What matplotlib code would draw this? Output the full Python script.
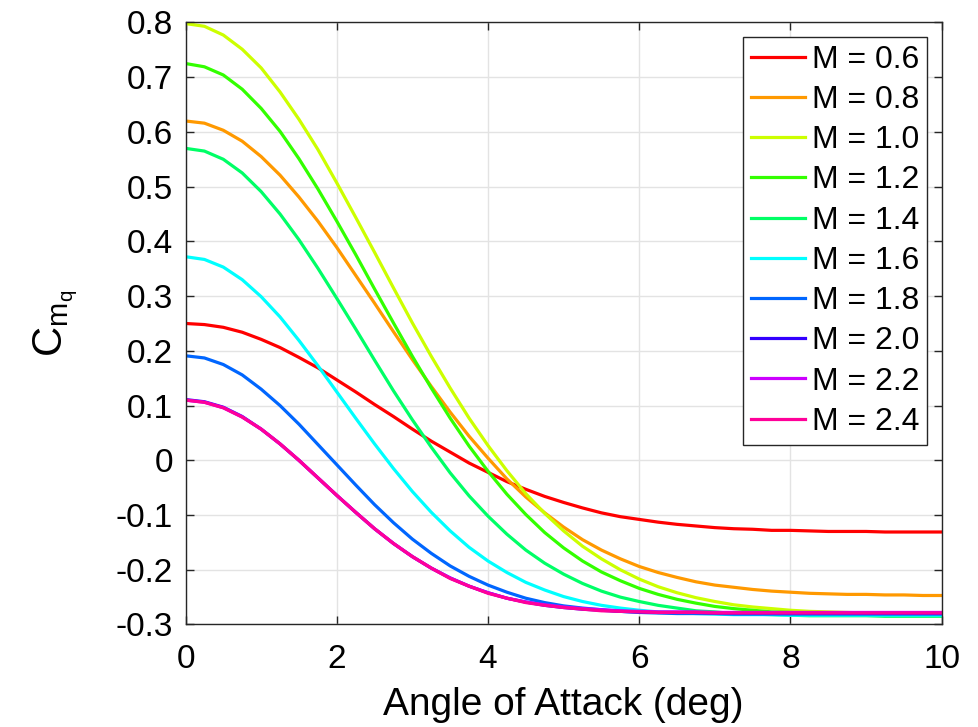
import numpy as np
import matplotlib.pyplot as plt

plt.rcParams['font.family'] = ['Liberation Sans', 'DejaVu Sans']
plt.rcParams['mathtext.default'] = 'regular'
plt.rcParams['axes.unicode_minus'] = False

# angle of attack samples (deg), every quarter degree
aoa = [0.0, 0.25, 0.5, 0.75, 1.0, 1.25, 1.5, 1.75, 2.0, 2.25,
       2.5, 2.75, 3.0, 3.25, 3.5, 3.75, 4.0, 4.25, 4.5, 4.75,
       5.0, 5.25, 5.5, 5.75, 6.0, 6.25, 6.5, 6.75, 7.0, 7.25,
       7.5, 7.75, 8.0, 8.25, 8.5, 8.75, 9.0, 9.25, 9.5, 9.75, 10.0]

# Cmq, one list per Mach number
cmq_m06 = [0.250, 0.248, 0.243, 0.234, 0.221, 0.206, 0.188, 0.169, 0.147, 0.125,
           0.102, 0.080, 0.057, 0.035, 0.015, -0.005, -0.022, -0.039, -0.053, -0.066,
           -0.077, -0.087, -0.096, -0.103, -0.108, -0.113, -0.117, -0.120, -0.123, -0.125,
           -0.126, -0.128, -0.128, -0.129, -0.130, -0.130, -0.130, -0.131, -0.131, -0.131, -0.131]
cmq_m08 = [0.620, 0.616, 0.603, 0.583, 0.555, 0.521, 0.481, 0.437, 0.389, 0.338,
           0.287, 0.235, 0.184, 0.135, 0.088, 0.044, 0.004, -0.034, -0.067, -0.096,
           -0.122, -0.145, -0.164, -0.180, -0.194, -0.205, -0.214, -0.222, -0.228, -0.232,
           -0.236, -0.239, -0.241, -0.243, -0.244, -0.245, -0.245, -0.246, -0.246, -0.247, -0.247]
cmq_m10 = [0.798, 0.793, 0.777, 0.751, 0.717, 0.673, 0.623, 0.568, 0.507, 0.444,
           0.380, 0.315, 0.251, 0.190, 0.132, 0.077, 0.027, -0.019, -0.061, -0.097,
           -0.129, -0.157, -0.180, -0.200, -0.217, -0.231, -0.242, -0.251, -0.258, -0.264,
           -0.268, -0.271, -0.274, -0.276, -0.277, -0.278, -0.279, -0.280, -0.280, -0.281, -0.281]
cmq_m12 = [0.725, 0.719, 0.704, 0.678, 0.643, 0.601, 0.551, 0.496, 0.437, 0.376,
           0.313, 0.251, 0.190, 0.132, 0.077, 0.026, -0.020, -0.062, -0.099, -0.132,
           -0.160, -0.184, -0.204, -0.220, -0.234, -0.245, -0.254, -0.261, -0.267, -0.271,
           -0.274, -0.277, -0.278, -0.280, -0.281, -0.281, -0.282, -0.282, -0.282, -0.283, -0.283]
cmq_m14 = [0.570, 0.565, 0.550, 0.525, 0.491, 0.450, 0.403, 0.351, 0.296, 0.240,
           0.183, 0.127, 0.074, 0.024, -0.023, -0.065, -0.102, -0.135, -0.164, -0.188,
           -0.208, -0.225, -0.239, -0.250, -0.258, -0.265, -0.270, -0.275, -0.277, -0.280,
           -0.281, -0.282, -0.283, -0.284, -0.284, -0.284, -0.284, -0.285, -0.285, -0.285, -0.285]
cmq_m16 = [0.372, 0.367, 0.353, 0.330, 0.299, 0.262, 0.219, 0.173, 0.125, 0.077,
           0.030, -0.015, -0.057, -0.095, -0.129, -0.159, -0.184, -0.205, -0.223, -0.237,
           -0.249, -0.258, -0.265, -0.270, -0.274, -0.277, -0.278, -0.280, -0.281, -0.282,
           -0.282, -0.282, -0.283, -0.283, -0.283, -0.283, -0.283, -0.283, -0.283, -0.283, -0.283]
cmq_m18 = [0.191, 0.187, 0.175, 0.156, 0.130, 0.100, 0.066, 0.029, -0.008, -0.045,
           -0.081, -0.114, -0.144, -0.170, -0.193, -0.212, -0.228, -0.241, -0.252, -0.260,
           -0.266, -0.270, -0.273, -0.276, -0.278, -0.279, -0.280, -0.280, -0.280, -0.281,
           -0.281, -0.281, -0.281, -0.281, -0.281, -0.281, -0.281, -0.281, -0.281, -0.281, -0.281]
cmq_m20 = [0.111, 0.107, 0.097, 0.080, 0.057, 0.030, 0.000, -0.032, -0.064, -0.095,
           -0.125, -0.152, -0.176, -0.197, -0.215, -0.230, -0.242, -0.252, -0.259, -0.265,
           -0.269, -0.272, -0.274, -0.276, -0.277, -0.278, -0.278, -0.278, -0.279, -0.279,
           -0.279, -0.279, -0.279, -0.279, -0.279, -0.279, -0.279, -0.279, -0.279, -0.279, -0.279]
cmq_m22 = [0.110, 0.106, 0.096, 0.079, 0.057, 0.030, 0.000, -0.032, -0.064, -0.095,
           -0.125, -0.152, -0.176, -0.197, -0.215, -0.230, -0.242, -0.252, -0.259, -0.264,
           -0.268, -0.271, -0.273, -0.275, -0.276, -0.277, -0.277, -0.277, -0.278, -0.278,
           -0.278, -0.278, -0.278, -0.278, -0.278, -0.278, -0.278, -0.278, -0.278, -0.278, -0.278]
cmq_m24 = [0.110, 0.106, 0.096, 0.079, 0.057, 0.030, 0.000, -0.032, -0.064, -0.095,
           -0.125, -0.152, -0.176, -0.197, -0.216, -0.230, -0.243, -0.252, -0.260, -0.265,
           -0.269, -0.272, -0.275, -0.276, -0.277, -0.278, -0.278, -0.278, -0.279, -0.279,
           -0.279, -0.279, -0.279, -0.279, -0.279, -0.279, -0.279, -0.279, -0.279, -0.279, -0.279]

mach_labels = ['M = 0.6', 'M = 0.8', 'M = 1.0', 'M = 1.2', 'M = 1.4',
               'M = 1.6', 'M = 1.8', 'M = 2.0', 'M = 2.2', 'M = 2.4']
all_cmq = [cmq_m06, cmq_m08, cmq_m10, cmq_m12, cmq_m14,
           cmq_m16, cmq_m18, cmq_m20, cmq_m22, cmq_m24]

xticks = [0, 2, 4, 6, 8, 10]
yticks = [-0.3, -0.2, -0.1, 0.0, 0.1, 0.2, 0.3, 0.4, 0.5, 0.6, 0.7, 0.8]
ytick_labels = ['-0.3', '-0.2', '-0.1', '0', '0.1', '0.2', '0.3', '0.4', '0.5', '0.6', '0.7', '0.8']

# hsv(10) colours, as matlab would give them
colors = ['#FF0000', '#FF9900', '#CCFF00', '#33FF00', '#00FF66',
          '#00FFFF', '#0066FF', '#3300FF', '#CC00FF', '#FF0099']

dark = '#262626'

fig = plt.figure(figsize=(9.79, 7.27), dpi=100)
ax = fig.add_axes([0.1895, 0.141, 0.7724, 0.8281])

for vals, col, lab in zip(all_cmq, colors, mach_labels):
    ax.plot(aoa, vals, color=col, lw=2.3, label=lab)

ax.set_xlim(0, 10)
ax.set_ylim(-0.3, 0.8)
ax.set_xticks(xticks)
ax.set_yticks(yticks)
ax.set_yticklabels(ytick_labels)

ax.grid(True, color='#e3e3e3', lw=1)
ax.set_axisbelow(True)
for sp in ax.spines.values():
    sp.set_color(dark)
    sp.set_linewidth(1)

ax.tick_params(direction='in', top=True, right=True, length=6, width=1,
               color=dark, labelcolor='black', labelsize=24)
ax.tick_params(axis='x', pad=14)
ax.tick_params(axis='y', pad=9)

ax.set_xlabel('Angle of Attack (deg)', fontsize=28, color='black', labelpad=9)
ax.set_ylabel(r'$C_{m_q}$', fontsize=30, color='black', labelpad=26)

leg = ax.legend(loc='upper right', fontsize=23, frameon=True, fancybox=False,
                edgecolor=dark, framealpha=1, handlelength=1.7, handletextpad=0.2,
                labelspacing=0.32, borderpad=0.25, borderaxespad=0.45)
leg.get_frame().set_linewidth(1)

fig.savefig('out.png', dpi=100)
